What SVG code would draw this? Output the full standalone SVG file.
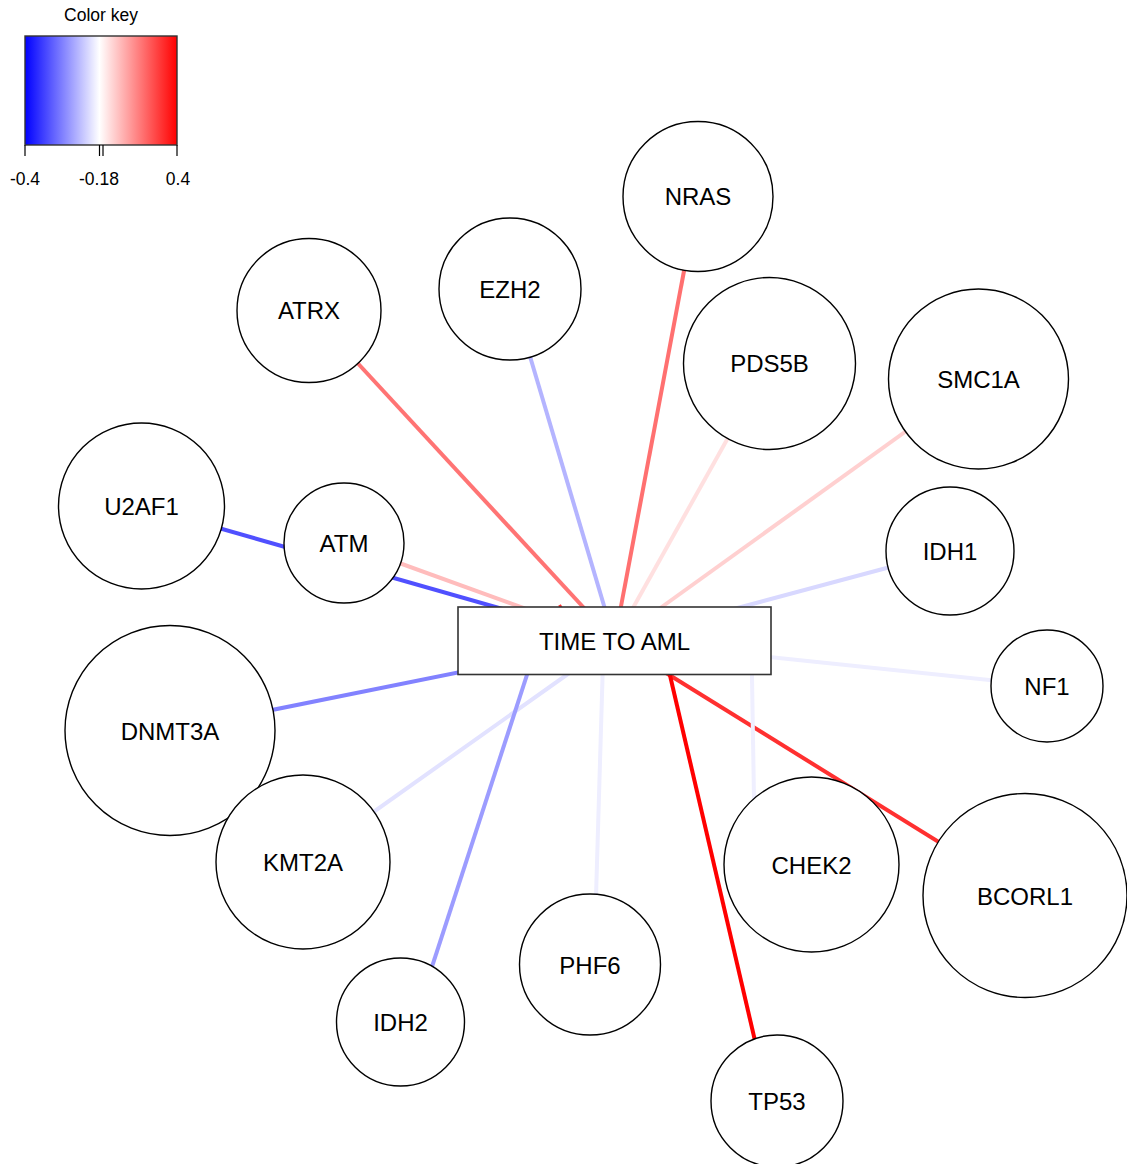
<svg xmlns="http://www.w3.org/2000/svg" width="1127" height="1164" viewBox="0 0 1127 1164">
<defs>
<linearGradient id="key" x1="0" y1="0" x2="1" y2="0">
<stop offset="0" stop-color="#0000ff"/>
<stop offset="0.49" stop-color="#ffffff"/>
<stop offset="1" stop-color="#ff0000"/>
</linearGradient>
</defs>
<style>
text{font-family:"Liberation Sans",Arial,sans-serif;fill:#000}
.lbl{font-size:24px;text-anchor:middle}
.key{font-size:17.5px;text-anchor:middle}
.node circle{fill:#fff;stroke:#000;stroke-width:1.4}
.edge{stroke-width:4;fill:none;stroke-linecap:butt}
.tick{stroke:#000;stroke-width:1.2}
</style>
<rect width="1127" height="1164" fill="#fff"/>
<g id="color-key">
<text class="key" x="101" y="21">Color key</text>
<rect x="25" y="36" width="152" height="109" fill="url(#key)" stroke="#333" stroke-width="1.4"/>
<line class="tick" x1="25" y1="145" x2="25" y2="156"/>
<line class="tick" x1="99.5" y1="145" x2="99.5" y2="156"/>
<line class="tick" x1="103" y1="145" x2="103" y2="156"/>
<line class="tick" x1="177" y1="145" x2="177" y2="156"/>
<text class="key" x="25" y="185">-0.4</text>
<text class="key" x="99" y="185">-0.18</text>
<text class="key" x="178" y="185">0.4</text>
</g>
<g id="connectors">
<line class="edge" x1="614.5" y1="641" x2="141.5" y2="506" stroke="#5050ff"/>
<line class="edge" x1="614.5" y1="641" x2="344" y2="543" stroke="#ffbcbc"/>
<line class="edge" x1="614.5" y1="641" x2="309" y2="310.5" stroke="#ff7474"/>
<line class="edge" x1="614.5" y1="641" x2="510" y2="289" stroke="#b4b4ff"/>
<line class="edge" x1="614.5" y1="641" x2="698" y2="196.5" stroke="#ff7070"/>
<line class="edge" x1="614.5" y1="641" x2="769.5" y2="363.5" stroke="#ffe0e0"/>
<line class="edge" x1="614.5" y1="641" x2="978.5" y2="379" stroke="#ffd0d0"/>
<line class="edge" x1="614.5" y1="641" x2="950" y2="551" stroke="#d8d8ff"/>
<line class="edge" x1="614.5" y1="641" x2="1047" y2="686" stroke="#eeeeff"/>
<line class="edge" x1="614.5" y1="641" x2="170" y2="730.5" stroke="#8282ff"/>
<line class="edge" x1="614.5" y1="641" x2="303" y2="862" stroke="#e2e2ff"/>
<line class="edge" x1="538" y1="641" x2="414" y2="1022" stroke="#9c9cff"/>
<line class="edge" x1="603.6" y1="641" x2="594" y2="964" stroke="#eeeeff"/>
<line class="edge" x1="614.5" y1="641" x2="1025" y2="895.5" stroke="#ff3030"/>
<line class="edge" x1="751.4" y1="641" x2="755" y2="860" stroke="#efefff"/>
<line class="edge" x1="662" y1="641" x2="769" y2="1101" stroke="#ff0000"/>
<line x1="559.5" y1="605" x2="561" y2="607.5" stroke="#ff3030" stroke-width="3"/>
</g>
<g id="node-NRAS" class="node"><circle cx="698" cy="196.5" r="75"/><text class="lbl" x="698" y="205">NRAS</text></g>
<g id="node-EZH2" class="node"><circle cx="510" cy="289" r="71"/><text class="lbl" x="510" y="298">EZH2</text></g>
<g id="node-ATRX" class="node"><circle cx="309" cy="310.5" r="72"/><text class="lbl" x="309" y="319">ATRX</text></g>
<g id="node-PDS5B" class="node"><circle cx="769.5" cy="363.5" r="86"/><text class="lbl" x="769.5" y="372">PDS5B</text></g>
<g id="node-SMC1A" class="node"><circle cx="978.5" cy="379" r="90"/><text class="lbl" x="978.5" y="388">SMC1A</text></g>
<g id="node-U2AF1" class="node"><circle cx="141.5" cy="506" r="83"/><text class="lbl" x="141.5" y="515">U2AF1</text></g>
<g id="node-ATM" class="node"><circle cx="344" cy="543" r="60"/><text class="lbl" x="344" y="552">ATM</text></g>
<g id="node-IDH1" class="node"><circle cx="950" cy="551" r="64"/><text class="lbl" x="950" y="560">IDH1</text></g>
<g id="node-NF1" class="node"><circle cx="1047" cy="686" r="56"/><text class="lbl" x="1047" y="695">NF1</text></g>
<g id="node-DNMT3A" class="node"><circle cx="170" cy="730.5" r="105"/><text class="lbl" x="170" y="739.5">DNMT3A</text></g>
<g id="node-KMT2A" class="node"><circle cx="303" cy="862" r="87"/><text class="lbl" x="303" y="871">KMT2A</text></g>
<g id="node-CHEK2" class="node"><circle cx="811.5" cy="864.5" r="87.5"/><text class="lbl" x="811.5" y="873.5">CHEK2</text></g>
<g id="node-BCORL1" class="node"><circle cx="1025" cy="895.5" r="102"/><text class="lbl" x="1025" y="904.5">BCORL1</text></g>
<g id="node-PHF6" class="node"><circle cx="590" cy="964.5" r="70.5"/><text class="lbl" x="590" y="973.5">PHF6</text></g>
<g id="node-IDH2" class="node"><circle cx="400.5" cy="1022" r="64"/><text class="lbl" x="400.5" y="1031">IDH2</text></g>
<g id="node-TP53" class="node"><circle cx="777" cy="1101" r="66"/><text class="lbl" x="777" y="1110">TP53</text></g>
<g id="node-TIME-TO-AML">
<rect x="458" y="607" width="313" height="67.5" fill="#fff" stroke="#333" stroke-width="1.6"/>
<text class="lbl" x="614.5" y="649.5">TIME TO AML</text>
</g>
</svg>
